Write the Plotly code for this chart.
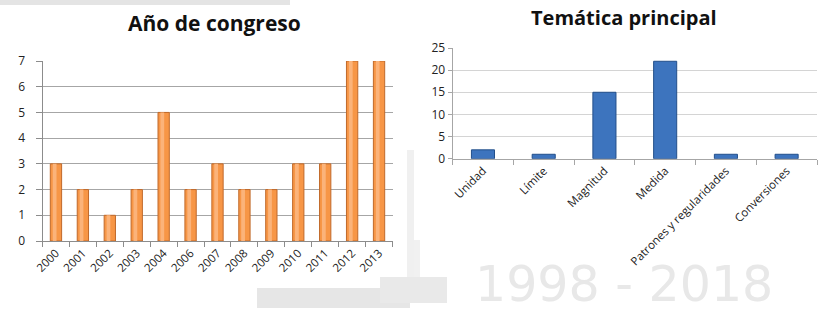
import plotly.graph_objects as go

years = ["2000", "2001", "2002", "2003", "2004", "2006", "2007", "2008", "2009", "2010", "2011", "2012", "2013"]
year_counts = [3, 2, 1, 2, 5, 2, 3, 2, 2, 3, 3, 7, 7]

topics = ["Unidad", "Límite", "Magnitud", "Medida", "Patrones y regularidades", "Conversiones"]
topic_counts = [2, 1, 15, 22, 1, 1]

W, H = 821, 314
def px(x):
    return x / W
def py(y):
    return 1 - y / H

def rect(x0, x1, y0, y1, color):
    return dict(type="rect", xref="paper", yref="paper", x0=px(x0), x1=px(x1), y0=py(y1), y1=py(y0),
                fillcolor=color, line=dict(width=0), layer="below")

fig = go.Figure()

# left chart: orange cylinders (body + highlight)
fig.add_trace(go.Bar(x=years, y=year_counts, xaxis="x", yaxis="y", width=0.42,
                     marker=dict(color="#F79646", line=dict(color="#C0692A", width=1)),
                     hoverinfo="x+y", showlegend=False))
fig.add_trace(go.Bar(x=years, y=year_counts, xaxis="x", yaxis="y", width=0.14, offset=-0.12,
                     marker=dict(color="#FBB37A", line=dict(width=0)),
                     hoverinfo="skip", showlegend=False))

# right chart: blue bars
fig.add_trace(go.Bar(x=topics, y=topic_counts, xaxis="x2", yaxis="y2", width=0.38,
                     marker=dict(color="#3D74BE", line=dict(color="#234F8A", width=1)),
                     hoverinfo="x+y", showlegend=False))

font = "Open Sans"
fig.update_layout(
    width=W, height=H, margin=dict(l=0, r=0, t=0, b=0, autoexpand=False),
    paper_bgcolor="white", plot_bgcolor="rgba(0,0,0,0)",
    barmode="overlay", bargap=0.5,
    font=dict(family=font, size=11, color="#222"),
    xaxis=dict(domain=[px(42.5), px(392.5)], anchor="y", showgrid=False, automargin=False,
               showline=True, linecolor="#8c8c8c", ticks="outside", tickson="boundaries",
               ticklen=5, tickcolor="#8c8c8c", tickangle=-45, tickfont=dict(size=11.5, color="#222")),
    yaxis=dict(domain=[py(241), py(61)], range=[0, 7], anchor="x", dtick=1, automargin=False,
               showgrid=True, gridcolor="#a6a6a6", gridwidth=1, zeroline=False,
               showline=True, linecolor="#8c8c8c", ticks="outside", ticklen=6, tickcolor="#8c8c8c",
               ticklabelstandoff=8, tickfont=dict(size=12, color="#222")),
    xaxis2=dict(domain=[px(452.6), px(817)], anchor="y2", showgrid=False, automargin=False,
                showline=True, linecolor="#a6a6a6", ticks="outside", tickson="boundaries",
                ticklen=5, tickcolor="#a6a6a6", tickangle=-45, tickfont=dict(size=11.5, color="#222")),
    yaxis2=dict(domain=[py(158.7), py(48)], range=[0, 25], anchor="x2", dtick=5, automargin=False,
                showgrid=True, gridcolor="#d4d4d4", gridwidth=1, zeroline=False,
                showline=True, linecolor="#a6a6a6", ticks="outside", ticklen=4, tickcolor="#a6a6a6",
                tickfont=dict(size=12, color="#222")),
    shapes=[
        rect(257, 410, 288, 308, "#e6e6e6"),
        rect(410, 420, 240, 286, "#f1f1f1"),
        rect(407, 414, 150, 278, "#f0f0f0"),
        rect(380, 447, 277, 303, "#e9e9e9"),
        rect(0, 290, 0, 5, "#e4e4e4"),
    ],
    annotations=[
        dict(text="<b>Año de congreso</b>", x=px(214), y=py(23), xref="paper", yref="paper",
             xanchor="center", yanchor="middle",
             showarrow=False, font=dict(family=font, size=21, color="#111")),
        dict(text="<b>Temática principal</b>", x=px(624), y=py(18), xref="paper", yref="paper",
             xanchor="center", yanchor="middle",
             showarrow=False, font=dict(family=font, size=20, color="#111")),
        dict(text="1998 - 2018", x=px(624), y=py(284), xref="paper", yref="paper",
             xanchor="center", yanchor="middle",
             showarrow=False, font=dict(family="DejaVu Sans", size=49, color="#e8e8e8")),
    ],
)

fig.write_html("out.html", config={"displayModeBar": False},
               post_script="document.body.style.margin='0';")
